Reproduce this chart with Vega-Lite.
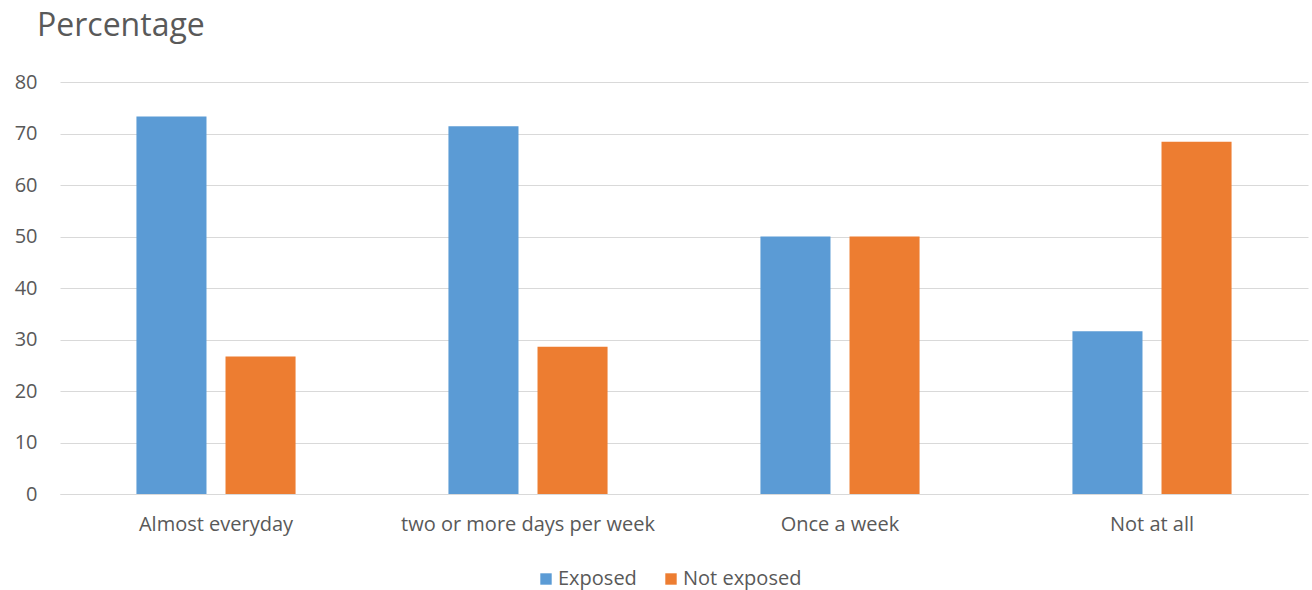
{
  "$schema": "https://vega.github.io/schema/vega-lite/v6.json",
  "width": 1248,
  "height": 412,
  "autosize": {"type": "none"},
  "padding": {"left": 60, "top": 82, "right": 4, "bottom": 96},
  "background": "white",
  "title": {
    "text": "Percentage",
    "anchor": "start",
    "frame": "group",
    "font": "Open Sans",
    "fontSize": 32,
    "fontWeight": "normal",
    "color": "#595959",
    "dx": -23,
    "offset": 29
  },
  "data": {
    "values": [
      {"category": "Almost everyday", "group": "Exposed", "value": 73.3},
      {"category": "Almost everyday", "group": "Not exposed", "value": 26.7},
      {"category": "two or more days per week", "group": "Exposed", "value": 71.4},
      {"category": "two or more days per week", "group": "Not exposed", "value": 28.6},
      {"category": "Once a week", "group": "Exposed", "value": 50},
      {"category": "Once a week", "group": "Not exposed", "value": 50},
      {"category": "Not at all", "group": "Exposed", "value": 31.6},
      {"category": "Not at all", "group": "Not exposed", "value": 68.4}
    ]
  },
  "mark": {"type": "bar"},
  "encoding": {
    "x": {
      "field": "category",
      "type": "nominal",
      "sort": null,
      "scale": {"paddingInner": 0.49, "paddingOuter": 0.245},
      "axis": {
        "title": null,
        "labelAngle": 0,
        "labelFont": "Open Sans",
        "labelFontSize": 20,
        "labelColor": "#595959",
        "labelPadding": 20,
        "labelLimit": 0,
        "ticks": false,
        "domainColor": "#d9d9d9",
        "domainWidth": 1
      }
    },
    "xOffset": {
      "field": "group",
      "type": "nominal",
      "scale": {"paddingInner": 0.2135, "paddingOuter": 0}
    },
    "y": {
      "field": "value",
      "type": "quantitative",
      "scale": {"domain": [0, 80]},
      "axis": {
        "title": null,
        "values": [0, 10, 20, 30, 40, 50, 60, 70, 80],
        "labelOverlap": false,
        "domain": false,
        "ticks": false,
        "gridColor": "#d9d9d9",
        "gridWidth": 1,
        "labelFont": "Open Sans",
        "labelFontSize": 20,
        "labelColor": "#595959",
        "labelPadding": 23
      }
    },
    "color": {
      "field": "group",
      "type": "nominal",
      "scale": {"domain": ["Exposed", "Not exposed"], "range": ["#5B9BD5", "#ED7D31"]},
      "legend": {
        "title": null,
        "orient": "none",
        "legendX": 476,
        "legendY": 487,
        "direction": "horizontal",
        "symbolType": "square",
        "symbolSize": 130,
        "symbolStrokeWidth": 0,
        "symbolOpacity": 1,
        "labelFont": "Open Sans",
        "labelFontSize": 20,
        "labelColor": "#595959",
        "labelOffset": 2,
        "columnPadding": 24
      }
    }
  },
  "config": {
    "view": {"stroke": null},
    "bar": {"stroke": null}
  }
}
